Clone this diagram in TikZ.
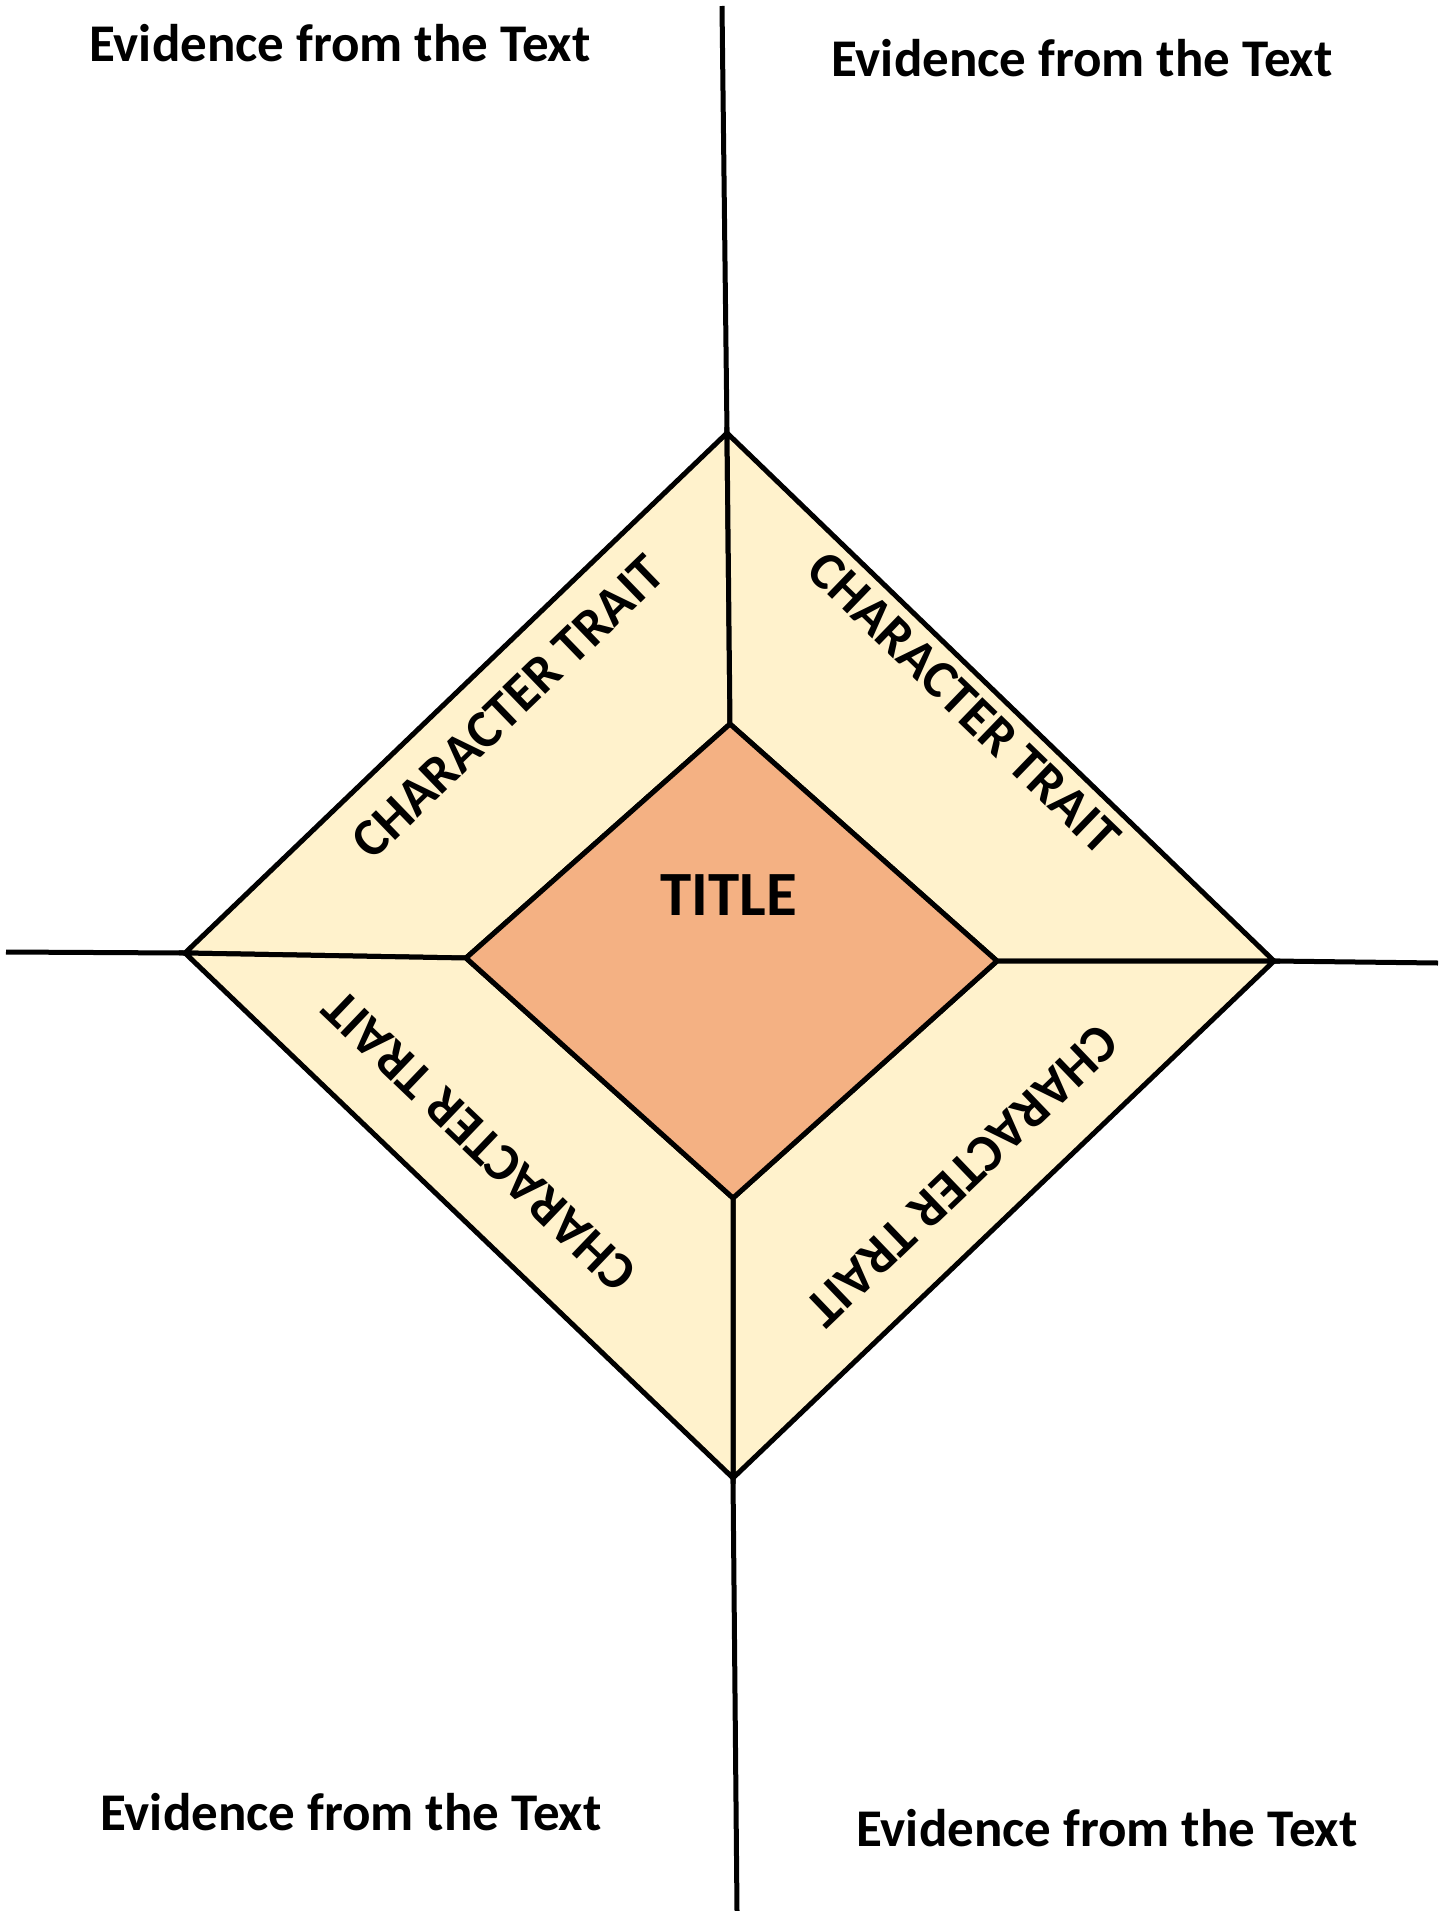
\documentclass[tikz,border=0pt]{standalone}
\usepackage{fontspec}
\setmainfont{Carlito}
\definecolor{traitfill}{HTML}{FFF2CC}
\definecolor{titlefill}{HTML}{F4B183}
\begin{document}
\begin{tikzpicture}[x=1pt,y=-1pt,
  edge/.style={draw=black,line width=5pt,line join=miter},
  trap/.style={edge,fill=traitfill},
  evid/.style={font=\fontsize{53}{60}\selectfont\bfseries,inner sep=0pt},
  trait/.style={font=\fontsize{53.5}{60}\selectfont\bfseries,inner sep=0pt}]
\useasboundingbox (0,0) rectangle (1448,1911);
\fill[white] (0,0) rectangle (1448,1911);
% vertices
\coordinate (topEnd) at (722,6);
\coordinate (OT) at (727,433);
\coordinate (OL) at (185,953);
\coordinate (OB) at (733,1478);
\coordinate (OR) at (1274,961);
\coordinate (IT) at (730,724);
\coordinate (IL) at (466,958);
\coordinate (IB) at (733,1198);
\coordinate (IR) at (997,961);
\coordinate (leftEnd) at (6,952);
\coordinate (rightEnd) at (1438,963);
\coordinate (botEnd) at (737,1911);
% trapezoids
\path[trap] (OT) -- (IT) -- (IL) -- (OL) -- cycle;
\path[trap] (OT) -- (OR) -- (IR) -- (IT) -- cycle;
\path[trap] (OR) -- (OB) -- (IB) -- (IR) -- cycle;
\path[trap] (OB) -- (OL) -- (IL) -- (IB) -- cycle;
% centre
\path[edge,fill=titlefill] (IT) -- (IR) -- (IB) -- (IL) -- cycle;
% axis lines
\draw[edge] (topEnd) -- (OT);
\draw[edge] (leftEnd) -- (OL);
\draw[edge] (OR) -- (rightEnd);
\draw[edge] (OB) -- (botEnd);
% labels
\node[font=\fontsize{63}{70}\selectfont\bfseries,inner sep=0pt] (title) at (729,895) {TITLE};
\node[trait,rotate=44] (t1) at (508,707) {CHARACTER TRAIT};
\node[trait,rotate=-44] (t2) at (964,703) {CHARACTER TRAIT};
\node[trait,rotate=136.3] (t3) at (479,1141) {CHARACTER TRAIT};
\node[trait,rotate=223.8] (t4) at (962,1176) {CHARACTER TRAIT};
\node[evid] (e1) at (340,43) {Evidence from the Text};
\node[evid] (e2) at (1082,58) {Evidence from the Text};
\node[evid] (e3) at (351,1812) {Evidence from the Text};
\node[evid] (e4) at (1107,1828) {Evidence from the Text};
\end{tikzpicture}
\end{document}
